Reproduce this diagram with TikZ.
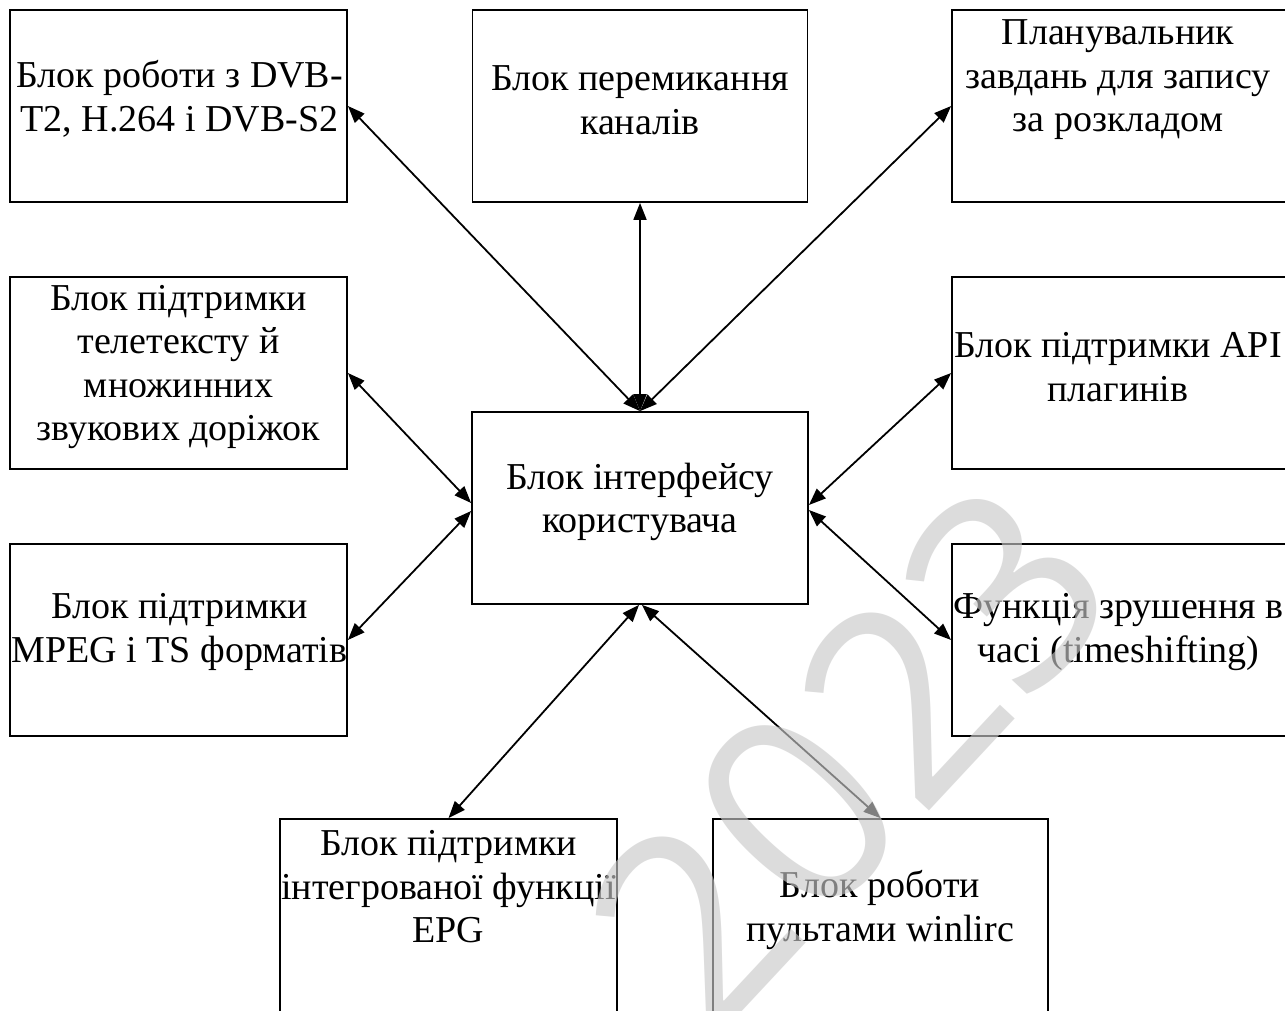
\documentclass[tikz,border=0pt]{standalone}
\usepackage{fontspec}
\setmainfont{Liberation Serif}
\newfontfamily\markfont{Open Sans}
\usetikzlibrary{arrows.meta}
\definecolor{wmgray}{RGB}{201,201,201}

\begin{document}
\begin{tikzpicture}[x=1pt,y=-1pt,
  blk/.style={draw, line width=1.8pt, minimum width=337pt, minimum height=192pt, inner sep=0pt},
  lbl/.style={align=center, inner sep=0pt, font=\fontsize{38}{43.5}\selectfont},
  link/.style={line width=1.8pt, {Triangle[length=17pt,width=13pt]}-{Triangle[length=17pt,width=13pt]}}
]
\useasboundingbox (0,0) rectangle (1285,1011);
\fill[white] (0,0) rectangle (1285,1011);
\clip (0,0) rectangle (1285,1011);

% frames of the blocks
\node[blk] (tl) at (178.5,106) {};
\node[blk, minimum width=335pt] (tc) at (640,106) {};
\node[blk, minimum width=335pt] (tr) at (1119.5,106) {};
\node[blk] (ml) at (178.5,373) {};
\node[blk, minimum width=335pt] (mr) at (1119.5,373) {};
\node[blk, minimum width=336pt] (c) at (640,508) {};
\node[blk] (ll) at (178.5,640) {};
\node[blk, minimum width=335pt] (lr) at (1119.5,640) {};
\node[blk, minimum height=200pt] (bl) at (448.5,919) {};
\node[blk, minimum width=335pt, minimum height=200pt] (br) at (880.5,919) {};

% captions
\node[lbl] (ttl) at (179.5,99) {Блок роботи з DVB-\\T2, H.264 і DVB-S2};
\node[lbl] (ttc) at (640,100) {Блок перемикання\\каналів};
\node[lbl] (ttr) at (1118,80) {Планувальник\\завдань для запису\\за розкладом};
\node[lbl] (tml) at (178.5,367) {Блок підтримки\\телетексту й\\множинних\\звукових доріжок};
\node[lbl] (tmr) at (1118,367) {Блок підтримки API\\плагинів};
\node[lbl] (tc0) at (640,502) {Блок інтерфейсу\\користувача};
\node[lbl] (tll) at (179.5,632) {Блок підтримки\\MPEG і TS форматів};
\node[lbl] (tlr) at (1118.5,632) {Функція зрушення в\\часі (timeshifting)};
\node[lbl] (tbl) at (448.5,887) {Блок підтримки\\інтегрованої функції\\EPG};
\node[lbl] (tbr) at (880,910) {Блок роботи\\пультами winlirc};

% links to the user interface block
\draw[link] (tl.east) -- (c.north);
\draw[link] (tc.south) -- (c.north);
\draw[link] (tr.west) -- (c.north);
\draw[link] (ml.east) -- ([yshift=5pt]c.west);
\draw[link] (ll.east) -- ([yshift=-3pt]c.west);
\draw[link] (mr.west) -- ([yshift=3pt]c.east);
\draw[link] (lr.west) -- ([yshift=-2pt]c.east);
\draw[link] (bl.north) -- ([xshift=-1pt]c.south);
\draw[link] (br.north) -- ([xshift=2pt]c.south);

% year mark
\node[rotate=47, text=wmgray, opacity=0.635, inner sep=0pt,
      font=\markfont\fontsize{268}{268}\selectfont] (yr) at (850,755) {2023};
\end{tikzpicture}
\end{document}
